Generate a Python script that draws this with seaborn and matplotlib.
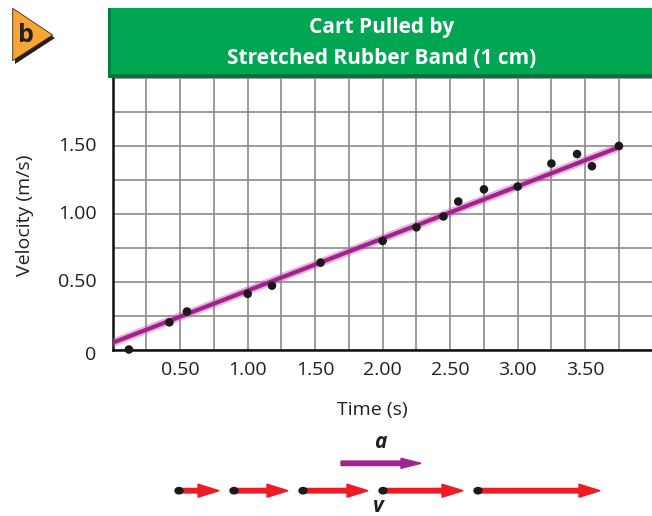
import matplotlib
matplotlib.use("Agg")
import matplotlib.pyplot as plt
import seaborn as sns
import pandas as pd
import numpy as np
from matplotlib.patches import Rectangle, Polygon, FancyArrow

# ---- data ----
time_s = [0.12, 0.42, 0.55, 1.00, 1.18, 1.54, 2.00, 2.25, 2.45, 2.56, 2.75, 3.00, 3.25, 3.44, 3.55, 3.75]
velocity = [0.00, 0.20, 0.28, 0.41, 0.47, 0.64, 0.80, 0.90, 0.98, 1.09, 1.18, 1.20, 1.37, 1.44, 1.35, 1.50]
fit_t = [0.0, 3.75]
fit_v = [0.05, 1.49]
x_ticks = [0.5, 1.0, 1.5, 2.0, 2.5, 3.0, 3.5]
x_labels = ["0.50", "1.00", "1.50", "2.00", "2.50", "3.00", "3.50"]
y_ticks = [0.0, 0.5, 1.0, 1.5]
y_labels = ["0", "0.50", "1.00", "1.50"]
title_lines = ["Cart Pulled by", "Stretched Rubber Band (1 cm)"]

# motion diagram (pixel positions in figure)
v_starts = [179, 234, 303, 383, 478]
v_ends = [219, 288, 368, 463, 600]

W, H = 652, 516
sns.set_theme(style="white")
FONT = ["Open Sans", "DejaVu Sans"]
plt.rcParams["font.family"] = FONT

def fx(x):
    return x / W

def fy(y):
    return 1 - y / H

fig = plt.figure(figsize=(W / 100, H / 100), dpi=100)
ax = fig.add_axes([fx(112.7), fy(349.5), (W - 112.7) / W, (349.5 - 78) / H])

df = pd.DataFrame({"t": time_s, "v": velocity})
fit = pd.DataFrame({"t": fit_t, "v": fit_v})

ax.set_xlim(0, 3.995)
ax.set_ylim(0, 2.0)
ax.set_xticks(np.arange(0, 4.0, 0.25))
ax.set_yticks(np.arange(0, 2.01, 0.25))
ax.grid(True, color="#8a8a8a", lw=1.2, zorder=0)
ax.set_axisbelow(True)

sns.lineplot(data=fit, x="t", y="v", ax=ax, color="#c65bb4", lw=6, alpha=0.45, zorder=3, legend=False)
sns.lineplot(data=fit, x="t", y="v", ax=ax, color="#a0228c", lw=3, zorder=4, legend=False)
sns.scatterplot(data=df, x="t", y="v", ax=ax, color="#1a1a1a", s=38, edgecolor="none", zorder=5, clip_on=False)

# tick labels as text (only selected ticks)
ax.set_xticklabels([])
ax.set_yticklabels([])
ax.tick_params(length=0)
for t, lab in zip(x_ticks, x_labels):
    ax.text(t, -0.15, lab, ha="center", va="center", fontsize=14, color="#231f20",
            transform=ax.transData, clip_on=False)
for v, lab in zip(y_ticks, y_labels):
    ax.text(-0.12, v - (0.04 if v == 0 else 0), lab, ha="right", va="center", fontsize=14, color="#231f20",
            transform=ax.transData, clip_on=False)
ax.set_xlabel("")
ax.set_ylabel("")
fig.text(fx(372), fy(410), "Time (s)", ha="center", va="center", fontsize=14, color="#231f20")
fig.text(fx(25), fy(215), "Velocity (m/s)", ha="center", va="center", rotation=90, fontsize=14, color="#231f20")

for s in ["top", "right"]:
    ax.spines[s].set_visible(False)
for s in ["left", "bottom"]:
    ax.spines[s].set_color("#111111")
    ax.spines[s].set_linewidth(1.8)

# header
fig.patches.append(Rectangle((fx(108), fy(78)), (W - 108) / W, 70 / H, transform=fig.transFigure,
                             facecolor="#00a651", edgecolor="none", zorder=5))
fig.patches.append(Rectangle((fx(108), fy(78)), (W - 108) / W, 4 / H, transform=fig.transFigure,
                             facecolor="#00743a", edgecolor="none", zorder=6))
fig.patches.append(Rectangle((fx(108), fy(78)), 3 / W, 70 / H, transform=fig.transFigure,
                             facecolor="#00803f", edgecolor="none", zorder=6))
fig.text(fx(382), fy(28), title_lines[0], ha="center", va="center", fontsize=15, color="white",
         fontweight="bold", zorder=7)
fig.text(fx(382), fy(58), title_lines[1], ha="center", va="center", fontsize=15, color="white",
         fontweight="bold", zorder=7)

# badge
fig.patches.append(Polygon([(fx(15), fy(12)), (fx(55), fy(38)), (fx(15), fy(64))], closed=True,
                           transform=fig.transFigure, facecolor="#222222", edgecolor="none", zorder=5))
fig.patches.append(Polygon([(fx(12.7), fy(8.3)), (fx(52.7), fy(35)), (fx(12.7), fy(60.7))], closed=True,
                           transform=fig.transFigure, facecolor="#f9a535", edgecolor="#3a2a10", lw=0.6, zorder=6))
fig.text(fx(26), fy(35), "b", ha="center", va="center", fontsize=18, fontweight="bold", color="#231f20", zorder=7)

# motion diagram
def arrow(x0, x1, y, color, hw, hl, lw):
    fig.patches.append(FancyArrow(fx(x0), fy(y), (x1 - x0) / W, 0, width=lw / H,
                                  head_width=hw / H, head_length=hl / W, length_includes_head=True,
                                  transform=fig.transFigure, color=color, zorder=5))

arrow(341, 421, 463.3, "#a3238e", 10, 20, 4.5)
fig.text(fx(380), fy(443), "a", ha="center", va="center", fontsize=15, fontweight="bold", style="italic",
         color="#231f20")
for s0, s1 in zip(v_starts, v_ends):
    arrow(s0, s1, 490.7, "#ed1c24", 13, 21, 4.5)
    fig.patches.append(plt.Circle((fx(s0), fy(490.7)), 4 / W, transform=fig.transFigure,
                                  color="#1a1a1a", zorder=6))
fig.text(fx(378), fy(506), "v", ha="center", va="center", fontsize=15, fontweight="bold", style="italic",
         color="#231f20")

fig.savefig("out.png", dpi=100)
